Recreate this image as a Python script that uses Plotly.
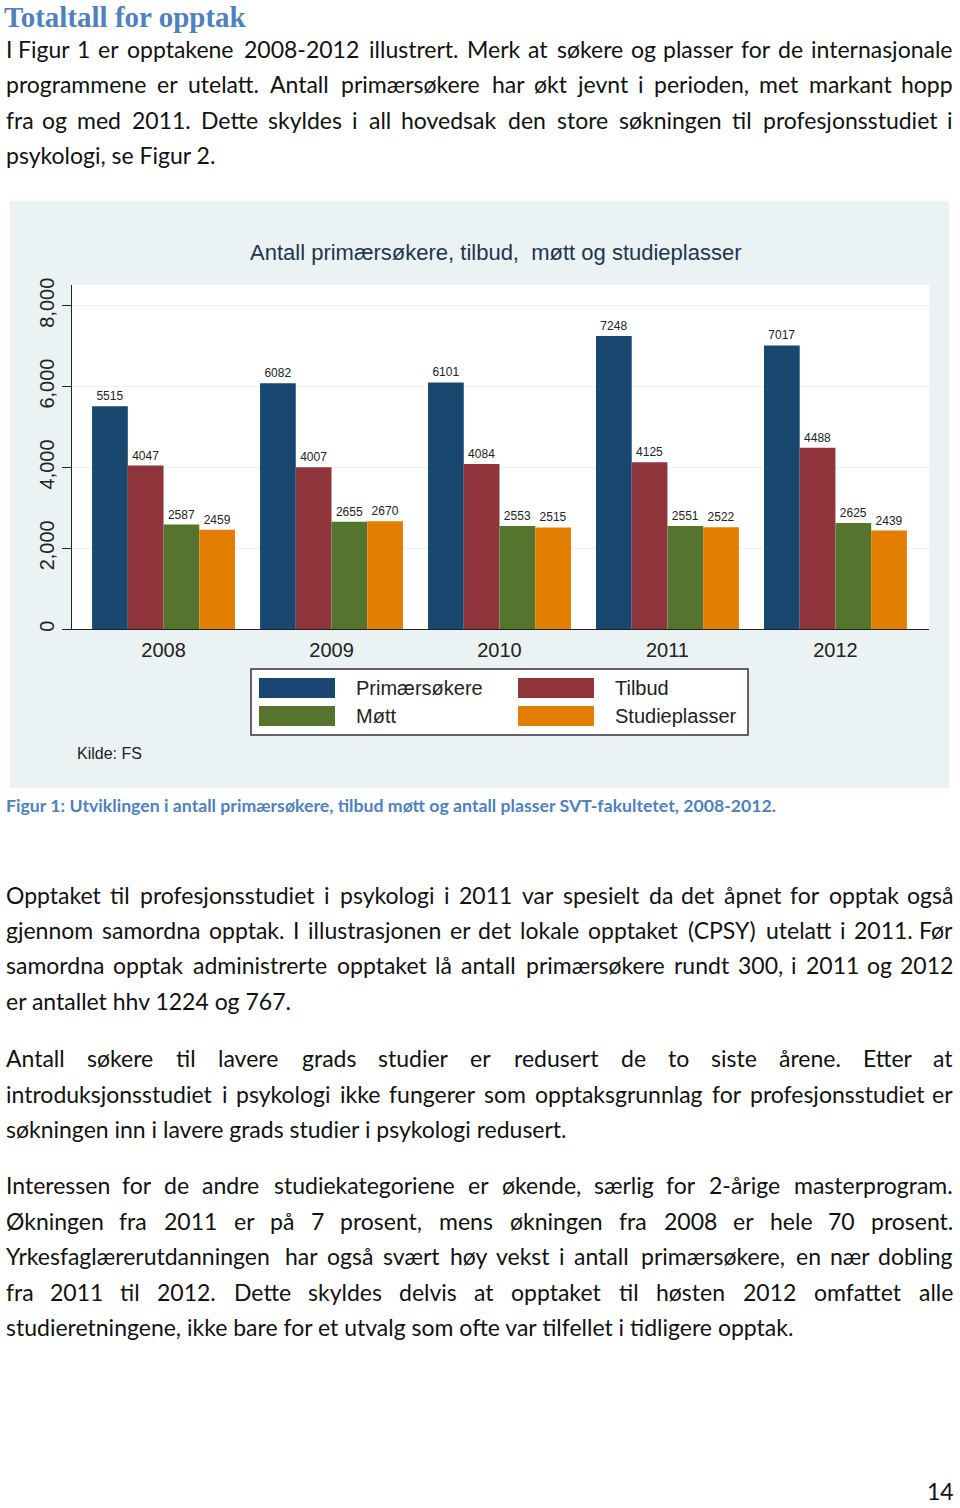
import plotly.graph_objects as go

# ---------------- data ----------------
years = ["2008", "2009", "2010", "2011", "2012"]
primaersokere = [5515, 6082, 6101, 7248, 7017]
tilbud = [4047, 4007, 4084, 4125, 4488]
mott = [2587, 2655, 2553, 2551, 2625]
studieplasser = [2459, 2670, 2515, 2522, 2439]
series_names = ["Primærsøkere", "Tilbud", "Møtt", "Studieplasser"]
series_colors = ["#1a476f", "#90353b", "#55752f", "#e37e00"]
y_ticks = [0, 2000, 4000, 6000, 8000]
y_ticktext = ["0", "2,000", "4,000", "6,000", "8,000"]

chart_title = "Antall primærsøkere, tilbud,\u00a0 møtt og studieplasser"
source_note = "Kilde: FS"
heading = "Totaltall for opptak"
caption = "Figur 1: Utviklingen i antall primærsøkere, tilbud møtt og antall plasser SVT-fakultetet, 2008-2012."
page_number = "14"

para1 = [
    "I Figur 1 er opptakene 2008-2012 illustrert. Merk at søkere og plasser for de internasjonale",
    "programmene er utelatt. Antall primærsøkere har økt jevnt i perioden, met markant hopp",
    "fra og med 2011. Dette skyldes i all hovedsak den store søkningen til profesjonsstudiet i",
    "psykologi, se Figur 2.",
]
para2 = [
    "Opptaket til profesjonsstudiet i psykologi i 2011 var spesielt da det åpnet for opptak også",
    "gjennom samordna opptak. I illustrasjonen er det lokale opptaket (CPSY) utelatt i 2011. Før",
    "samordna opptak administrerte opptaket lå antall primærsøkere rundt 300, i 2011 og 2012",
    "er antallet hhv 1224 og 767.",
]
para3 = [
    "Antall søkere til lavere grads studier er redusert de to siste årene. Etter at",
    "introduksjonsstudiet i psykologi ikke fungerer som opptaksgrunnlag for profesjonsstudiet er",
    "søkningen inn i lavere grads studier i psykologi redusert.",
]
para4 = [
    "Interessen for de andre studiekategoriene er økende, særlig for 2-årige masterprogram.",
    "Økningen fra 2011 er på 7 prosent, mens økningen fra 2008 er hele 70 prosent.",
    "Yrkesfaglærerutdanningen har også svært høy vekst i antall primærsøkere, en nær dobling",
    "fra 2011 til 2012. Dette skyldes delvis at opptaket til høsten 2012 omfattet alle",
    "studieretningene, ikke bare for et utvalg som ofte var tilfellet i tidligere opptak.",
]

# ---------------- page geometry helpers ----------------
# the rendered page shows the figure below an 8px band, so page rows 8..1508
# map onto the full figure height
W, H = 960, 1508
TOP = 8
def fx(x):
    return x / W
def fy(y):
    return 1 - (y - TOP) / (H - TOP)

CHART_FONT = "Liberation Sans, Arial, sans-serif"
BODY_FONT = "Lato, sans-serif"
BODY_SIZE = 23
TEXT_COLOR = "#111111"
BLUE_HEAD = "#4f81bd"

series = [primaersokere, tilbud, mott, studieplasser]

fig = go.Figure()
for name, vals, col in zip(series_names, series, series_colors):
    fig.add_trace(go.Bar(
        x=years, y=vals, name=name,
        marker=dict(color=col, line=dict(width=0)),
        text=vals, texttemplate="%{text}", textposition="outside",
        textfont=dict(family=CHART_FONT, size=12, color="#222222"),
        constraintext="none", cliponaxis=False, showlegend=False,
    ))

shapes = []
shapes.append(dict(type="rect", xref="paper", yref="paper", x0=fx(10), x1=fx(949),
                   y0=fy(790), y1=fy(202), fillcolor="#eaf2f3", line=dict(width=0), layer="below"))
shapes.append(dict(type="rect", xref="paper", yref="paper", x0=fx(72), x1=fx(929),
                   y0=fy(631), y1=fy(286), fillcolor="#ffffff", line=dict(width=0), layer="below"))

annotations = []
annotations.append(dict(text=chart_title, x=fx(496), y=fy(254), xref="paper", yref="paper",
                        xanchor="center", yanchor="middle", showarrow=False,
                        font=dict(family=CHART_FONT, size=22, color="#1e3550")))
annotations.append(dict(text=source_note, x=fx(75), y=fy(755), xref="paper", yref="paper",
                        xanchor="left", yanchor="middle", showarrow=False,
                        font=dict(family=CHART_FONT, size=16, color="#222222")))

shapes.append(dict(type="rect", xref="paper", yref="paper", x0=fx(251), x1=fx(748),
                   y0=fy(737), y1=fy(671), fillcolor="#ffffff",
                   line=dict(color="#333333", width=1.5)))
leg_cols = [259, 518]
leg_rows = [680, 708]
for i, (name, col) in enumerate(zip(series_names, series_colors)):
    cx = leg_cols[i % 2]
    ry = leg_rows[i // 2]
    shapes.append(dict(type="rect", xref="paper", yref="paper", x0=fx(cx), x1=fx(cx + 76),
                       y0=fy(ry + 20), y1=fy(ry), fillcolor=col, line=dict(width=0)))
    annotations.append(dict(text=name, x=fx(cx + 95), y=fy(ry + 10), xref="paper", yref="paper",
                            xanchor="left", yanchor="middle", showarrow=False,
                            font=dict(family=CHART_FONT, size=20, color="#222222")))

LATO_W = {
    'a': .49, 'b': .55, 'c': .46, 'd': .55, 'e': .51, 'f': .32, 'g': .50, 'h': .55, 'i': .24,
    'j': .24, 'k': .50, 'l': .24, 'm': .82, 'n': .55, 'o': .55, 'p': .55, 'q': .55, 'r': .36,
    's': .42, 't': .35, 'u': .55, 'v': .50, 'w': .76, 'x': .49, 'y': .50, 'z': .45,
    'æ': .80, 'ø': .55, 'å': .49, 'I': .28, 'J': .39, 'M': .90, 'W': 1.0, 'L': .49, 'E': .55,
    'F': .53, 'S': .52, 'P': .58, 'T': .58, 'Ø': .78, 'O': .78, 'C': .66, 'Y': .62,
    ' ': .19, '.': .21, ',': .21, ':': .23, '-': .35, '(': .30, ')': .30,
}
def text_w(s, size):
    tot = 0.0
    for c in s:
        if c in LATO_W:
            tot += LATO_W[c]
        elif c.isdigit():
            tot += .58
        elif c.isupper():
            tot += .66
        else:
            tot += .52
    return tot * size * 1.04

def add_line(text, baseline, justify, left=4, right=955, size=BODY_SIZE, color=TEXT_COLOR,
             family=BODY_FONT):
    yc = fy(baseline - 0.36 * size)
    if not justify:
        annotations.append(dict(text=text, x=fx(left), y=yc, xref="paper", yref="paper",
                                xanchor="left", yanchor="middle", showarrow=False,
                                font=dict(family=family, size=size, color=color)))
        return
    words = text.split(" ")
    widths = [text_w(w, size) for w in words]
    gap = (right - left - sum(widths)) / (len(words) - 1)
    pos = left
    for i, (w, wd) in enumerate(zip(words, widths)):
        if i == 0:
            x, anchor = pos, "left"
        elif i == len(words) - 1:
            x, anchor = right, "right"
        else:
            x, anchor = pos + wd / 2, "center"
        annotations.append(dict(text=w, x=fx(x), y=yc, xref="paper", yref="paper",
                                xanchor=anchor, yanchor="middle", showarrow=False,
                                font=dict(family=family, size=size, color=color)))
        pos += wd + gap

LINE_STEP = 35.5
for para, first_base in [(para1, 58), (para2, 905), (para3, 1069), (para4, 1196)]:
    for k, line in enumerate(para):
        add_line(line, first_base + k * LINE_STEP, justify=(k < len(para) - 1))

annotations.append(dict(text="<b>" + heading + "</b>", x=fx(3), y=fy(18), xref="paper", yref="paper",
                        xanchor="left", yanchor="middle", showarrow=False, borderpad=0,
                        font=dict(family="Liberation Serif, serif", size=29, color=BLUE_HEAD)))
annotations.append(dict(text="<b>" + caption + "</b>", x=fx(4), y=fy(808), xref="paper", yref="paper",
                        xanchor="left", yanchor="middle", showarrow=False,
                        font=dict(family=BODY_FONT, size=17.7, color=BLUE_HEAD)))
annotations.append(dict(text=page_number, x=fx(955), y=fy(1494), xref="paper", yref="paper",
                        xanchor="right", yanchor="middle", showarrow=False, borderpad=0,
                        font=dict(family=BODY_FONT, size=23, color=TEXT_COLOR)))

fig.update_layout(
    width=W, height=H,
    margin=dict(l=0, r=0, t=0, b=0),
    paper_bgcolor="#ffffff", plot_bgcolor="rgba(0,0,0,0)",
    barmode="group", bargap=0.149, bargroupgap=0,
    xaxis=dict(domain=[fx(72), fx(929)], type="category", range=[-0.545, 4.557],
               showline=True, linecolor="#222222", linewidth=1.2, ticks="",
               tickfont=dict(family=CHART_FONT, size=20, color="#222222"),
               ticklabelstandoff=3, showgrid=False, zeroline=False, fixedrange=True),
    yaxis=dict(domain=[fy(631), fy(286)], range=[0, 8520], tickvals=y_ticks, ticktext=y_ticktext,
               tickangle=-90, ticks="outside", ticklen=9, tickcolor="#222222", tickwidth=1.2,
               showline=True, linecolor="#222222", linewidth=1.2,
               tickfont=dict(family=CHART_FONT, size=20, color="#222222"),
               ticklabelstandoff=0,
               showgrid=True, gridcolor="#eaf2f3", gridwidth=1, zeroline=False, fixedrange=True),
    shapes=shapes, annotations=annotations,
)

fig.write_html(
    "out.html", config={"displayModeBar": False},
    post_script=(
        "document.documentElement.style.margin='0';"
        "document.body.style.margin='0';document.body.style.padding='0';"
        "document.body.style.overflow='hidden';"
    ),
)
